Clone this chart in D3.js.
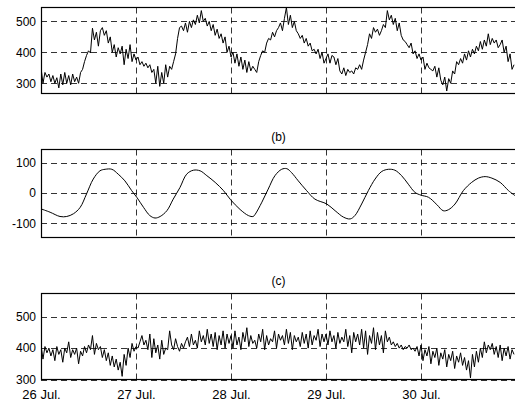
<!DOCTYPE html>
<html>
<head>
<meta charset="utf-8">
<script src="https://cdn.jsdelivr.net/npm/d3@7"></script>
<style>
  body { margin: 0; background: #fff; }
  text { font-family: Arial, "Liberation Sans", Helvetica, sans-serif; fill: #000; }
</style>
</head>
<body>
<script>
// x tick labels, one per day
const dayLabels = ["26 Jul.", "27 Jul.", "28 Jul.", "29 Jul.", "30 Jul."];

// (a) half-hourly values
const seriesA = [
  // 26 Jul
  350, 300, 335, 320, 330, 305, 325, 300, 318, 285, 330, 295, 335, 300, 325, 295,
  330, 305, 320, 300, 335, 345, 370, 390, 405, 398, 478, 440, 465, 420, 470, 480,
  455, 470, 430, 450, 400, 425, 385, 415, 395, 420, 360, 410, 380, 425, 370, 395,
  // 27 Jul
  375, 385, 360, 370, 355, 365, 350, 360, 335, 345, 300, 355, 290, 335, 300, 360,
  320, 355, 345, 370, 395, 445, 480, 485, 470, 495, 465, 500, 480, 505, 490, 520,
  495, 535, 500, 510, 485, 500, 470, 490, 455, 475, 445, 460, 430, 450, 400, 420,
  // 28 Jul
  385, 400, 365, 395, 355, 385, 345, 375, 335, 370, 340, 355, 345, 335, 370, 390,
  405, 400, 430, 445, 440, 465, 450, 470, 480, 495, 470, 510, 545, 490, 520, 480,
  500, 470, 460, 445, 455, 430, 445, 420, 430, 405, 410, 395, 410, 380, 400, 365,
  // 29 Jul
  380, 395, 365, 390, 385, 360, 380, 340, 330, 350, 325, 345, 335, 340, 330, 350,
  345, 360, 345, 375, 400, 425, 460, 445, 480, 465, 475, 455, 470, 490, 480, 535,
  505, 520, 490, 510, 470, 495, 455, 440, 435, 425, 415, 430, 395, 405, 380, 395,
  // 30 Jul
  375, 385, 345, 365, 350, 345, 340, 355, 320, 350, 310, 295, 320, 275, 315, 300,
  340, 330, 370, 360, 380, 365, 395, 375, 405, 385, 410, 395, 420, 405, 435, 410,
  440, 420, 460, 425, 445, 430, 440, 415, 425, 440, 400, 420, 370, 395, 345, 360
];

// (b) smooth component, read at irregular hours
const hoursB = [
  0, 2.3, 4.8, 6.5, 8.2, 9.9, 11.5, 13.2, 14.9, 16.2, 17.9, 19.5, 21.2, 22.9,
  24.2, 25.9, 27.5, 28.8, 30.1, 31.8, 33.4, 35.1, 36.8, 38.5, 40.2, 41.9, 44.0, 46.1,
  47.9, 50.3, 52.4, 53.6, 54.1, 55.8, 57.4, 59.1, 60.8, 62.1, 63.3, 65.0, 67.1, 69.2,
  72.2, 74.3, 76.4, 78.1, 79.3, 81.0, 82.7, 84.4, 86.1, 87.8, 89.4, 91.1, 92.8, 94.5,
  96.0, 97.9, 100.0, 101.6, 102.9, 104.6, 106.7, 108.8, 110.5, 112.2, 113.9, 116.0, 118.1, 119.8
];
const seriesB = [
  -52, -63, -77, -77, -68, -47, -3, 46, 73, 78, 78, 62, 40, 8,
  -14, -47, -74, -82, -77, -58, -20, 18, 62, 75, 73, 57, 35, 8,
  -22, -54, -74, -77, -70, -30, 13, 57, 78, 80, 67, 40, 8, -20,
  -36, -58, -79, -85, -74, -36, 8, 46, 71, 78, 75, 57, 29, 2,
  -7, -14, -38, -58, -55, -36, 8, 35, 49, 54, 49, 35, 8, -9
];

// (c) half-hourly values
const seriesC = [
  // 26 Jul
  410, 365, 405, 385, 400, 375, 395, 360, 405, 380, 395, 355, 400, 385, 420, 370,
  395, 380, 400, 350, 390, 375, 405, 385, 410, 395, 440, 380, 415, 395, 405, 370,
  395, 360, 385, 345, 375, 340, 365, 330, 355, 310, 380, 345, 400, 370, 415, 390,
  // 27 Jul
  405, 400, 420, 440, 410, 425, 395, 445, 370, 430, 385, 410, 365, 425, 380, 400,
  395, 455, 410, 395, 430, 405, 390, 415, 400, 420, 435, 405, 445, 410, 425, 400,
  455, 420, 440, 410, 460, 415, 445, 405, 450, 395, 440, 410, 455, 400, 445, 415,
  // 28 Jul
  440, 400, 455, 410, 435, 395, 450, 420, 465, 405, 440, 415, 425, 400, 445, 420,
  460, 395, 440, 410, 430, 420, 455, 400, 445, 425, 440, 410, 460, 415, 450, 395,
  440, 420, 435, 405, 450, 415, 445, 400, 455, 410, 440, 425, 460, 405, 445, 420,
  // 29 Jul
  445, 410, 455, 420, 440, 400, 450, 415, 435, 420, 460, 405, 440, 385, 450, 420,
  445, 410, 460, 400, 455, 380, 440, 415, 465, 395, 450, 410, 440, 385, 455, 420,
  435, 410, 420, 405, 415, 400, 410, 395, 405, 400, 410, 395, 400, 390, 405, 375,
  // 30 Jul
  410, 360, 395, 375, 405, 350, 390, 370, 400, 345, 385, 365, 395, 340, 380, 360,
  390, 335, 375, 355, 385, 345, 370, 330, 360, 305, 380, 340, 390, 355, 400, 370,
  420, 385, 410, 395, 415, 380, 405, 370, 410, 360, 400, 375, 405, 365, 395, 380
];

const ticksA = [300, 400, 500];
const ticksB = [-100, 0, 100];
const ticksC = [300, 400, 500];

const W = 515, H = 403;
const left = 41, right = 516;

const svg = d3.select("body").append("svg")
    .attr("width", W)
    .attr("height", H);

const x = d3.scaleLinear().domain([0, 120]).range([left, right]);

const halfHour = (v, i) => ({ h: i * 0.5, v });

const panels = [
  { top: 7.5, bottom: 93.5, domain: [267, 545], ticks: ticksA,
    data: seriesA.map(halfHour), curve: d3.curveLinear, title: null },
  { top: 149.5, bottom: 237.5, domain: [-146, 143], ticks: ticksB,
    data: seriesB.map((v, i) => ({ h: hoursB[i], v })), curve: d3.curveCatmullRom, title: "(b)" },
  { top: 293.5, bottom: 379.5, domain: [300, 574], ticks: ticksC,
    data: seriesC.map(halfHour), curve: d3.curveLinear, title: "(c)" }
];

panels.forEach((p, k) => {
  const y = d3.scaleLinear().domain(p.domain).range([p.bottom, p.top]);
  const g = svg.append("g");

  const clipId = "clip" + k;
  g.append("clipPath").attr("id", clipId)
    .append("rect")
      .attr("x", left).attr("y", p.top)
      .attr("width", right - left).attr("height", p.bottom - p.top);

  // dashed grid
  g.append("g")
    .selectAll("line")
    .data(p.ticks)
    .join("line")
      .attr("x1", left).attr("x2", right)
      .attr("y1", d => Math.round(y(d)) + 0.5)
      .attr("y2", d => Math.round(y(d)) + 0.5)
      .attr("stroke", "#000")
      .attr("stroke-width", 0.8)
      .attr("stroke-dasharray", "6,4");

  g.append("g")
    .selectAll("line")
    .data([24, 48, 72, 96])
    .join("line")
      .attr("x1", d => Math.round(x(d)) + 0.5)
      .attr("x2", d => Math.round(x(d)) + 0.5)
      .attr("y1", p.top).attr("y2", p.bottom)
      .attr("stroke", "#000")
      .attr("stroke-width", 0.8)
      .attr("stroke-dasharray", "6,4");

  // the series
  const line = d3.line()
    .x(d => x(d.h))
    .y(d => y(d.v))
    .curve(p.curve);

  g.append("path")
    .datum(p.data)
    .attr("clip-path", `url(#${clipId})`)
    .attr("fill", "none")
    .attr("stroke", "#000")
    .attr("stroke-width", 1)
    .attr("d", line);

  // frame
  g.append("rect")
    .attr("x", left + 0.5).attr("y", p.top)
    .attr("width", right - left).attr("height", p.bottom - p.top)
    .attr("fill", "none")
    .attr("stroke", "#000")
    .attr("stroke-width", 1.2);

  // y tick labels
  const yAxis = d3.axisLeft(y).tickValues(p.ticks).tickSize(0).tickPadding(5);
  g.append("g")
    .attr("transform", `translate(${left},0)`)
    .call(yAxis)
    .call(a => a.select(".domain").remove())
    .call(a => a.selectAll("text")
      .attr("font-size", 12)
      .attr("font-family", "Arial, 'Liberation Sans', sans-serif")
      .text(d => d < 0 ? "-" + Math.abs(d) : d));

  if (p.title) {
    g.append("text")
      .attr("x", (left + right) / 2)
      .attr("y", p.top - 9)
      .attr("text-anchor", "middle")
      .attr("font-size", 12)
      .text(p.title);
  }

  if (k === panels.length - 1) {
    const xAxis = d3.axisBottom(x)
      .tickValues([0, 24, 48, 72, 96])
      .tickFormat((d, i) => dayLabels[i])
      .tickSize(0)
      .tickPadding(10);
    g.append("g")
      .attr("transform", `translate(0,${p.bottom})`)
      .call(xAxis)
      .call(a => a.select(".domain").remove())
      .call(a => a.selectAll("text")
        .attr("font-size", 13)
        .attr("font-family", "Arial, 'Liberation Sans', sans-serif"));
  }
});
</script>
</body>
</html>
